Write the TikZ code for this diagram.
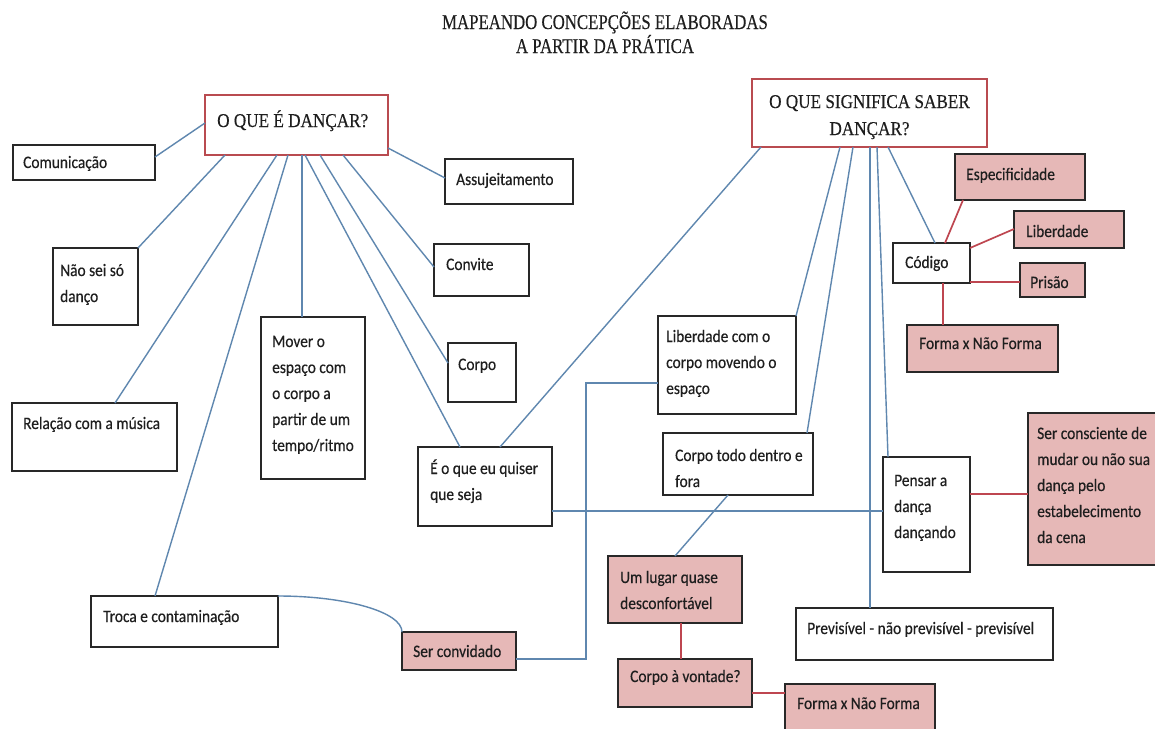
\documentclass[tikz,border=0pt]{standalone}
\usepackage{fontspec}
\setmainfont{Carlito}[FakeStretch=0.88,FakeBold=0.35]
\newfontfamily\ttlfont[FakeStretch=0.8,FakeBold=0.3]{Liberation Serif}
\newfontfamily\qfont[FakeStretch=0.88,FakeBold=0.3]{Liberation Serif}
\newcommand\mlines[1]{\begin{tabular}[t]{@{}l@{}}#1\end{tabular}}
\definecolor{boxline}{RGB}{40,40,40}
\definecolor{qred}{RGB}{185,75,80}
\definecolor{pinkfill}{RGB}{230,184,183}
\definecolor{connblue}{RGB}{95,135,175}
\definecolor{connred}{RGB}{190,70,80}
\definecolor{txtcol}{RGB}{30,30,30}
\begin{document}
\begin{tikzpicture}[x=1pt,y=-1pt,
  box/.style={draw=boxline, line width=1.9pt, fill=white, inner sep=0pt, outer sep=0pt, anchor=north west},
  pinkbox/.style={box, fill=pinkfill},
  qbox/.style={box, draw=qred, line width=2.6pt},
  txt/.style={anchor=base west, inner sep=0pt, text=txtcol, font=\fontsize{17.5}{26}\selectfont},
  conn/.style={draw=connblue, line width=1.4pt},
  rconn/.style={draw=connred, line width=1.7pt}]
\useasboundingbox (0,0) rectangle (1155,728);
\fill[white] (0,0) rectangle (1155,728);

% title
\node[anchor=base, inner sep=0pt, text=txtcol, font=\ttlfont\fontsize{21}{24}\selectfont] (ttl1) at (605,29) {MAPEANDO CONCEPÇÕES ELABORADAS};
\node[anchor=base, inner sep=0pt, text=txtcol, font=\ttlfont\fontsize{21}{24}\selectfont] (ttl2) at (605,53) {A PARTIR DA PRÁTICA};

% boxes
\node[qbox, minimum width=183pt, minimum height=60pt] (A) at (205,95) {};
\node[qbox, minimum width=235pt, minimum height=68pt] (B) at (752,79) {};
\node[box, minimum width=142pt, minimum height=35pt] (com) at (13,145) {};
\node[box, minimum width=85pt, minimum height=77pt] (nao) at (53,248) {};
\node[box, minimum width=128pt, minimum height=45pt] (ass) at (445,159) {};
\node[box, minimum width=95pt, minimum height=52pt] (con) at (434,244) {};
\node[box, minimum width=104pt, minimum height=162pt] (mov) at (261,317) {};
\node[box, minimum width=68pt, minimum height=59pt] (corpo) at (448,343) {};
\node[box, minimum width=165pt, minimum height=68pt] (rel) at (12,403) {};
\node[box, minimum width=134pt, minimum height=79pt] (e) at (418,447) {};
\node[box, minimum width=187pt, minimum height=51pt] (troca) at (91,596) {};
\node[pinkbox, minimum width=114pt, minimum height=38pt] (ser) at (402,632) {};
\node[box, minimum width=138pt, minimum height=98pt] (lib) at (658,316) {};
\node[box, minimum width=150pt, minimum height=62pt] (ctd) at (663,433) {};
\node[box, minimum width=77pt, minimum height=40pt] (cod) at (893,243) {};
\node[pinkbox, minimum width=130pt, minimum height=46pt] (esp) at (955,154) {};
\node[pinkbox, minimum width=110pt, minimum height=37pt] (libd) at (1014,211) {};
\node[pinkbox, minimum width=65pt, minimum height=34pt] (pri) at (1020,263) {};
\node[pinkbox, minimum width=151pt, minimum height=47pt] (fnf1) at (907,325) {};
\node[box, minimum width=87pt, minimum height=115pt] (pen) at (883,457) {};
\node[pinkbox, minimum width=134pt, minimum height=152pt] (scd) at (1028,413) {};
\node[pinkbox, minimum width=134pt, minimum height=67pt] (um) at (608,556) {};
\node[pinkbox, minimum width=134pt, minimum height=48pt] (cav) at (618,659) {};
\node[box, minimum width=257pt, minimum height=52pt] (prev) at (796,608) {};
\node[pinkbox, minimum width=150pt, minimum height=56pt] (fnf2) at (785,684) {};

% texts
\node[anchor=base west, inner sep=0pt, text=txtcol, font=\qfont\fontsize{19.5}{27}\selectfont] (tA) at (217,127) {O QUE É DANÇAR?};
\node[anchor=base, inner sep=0pt, text=txtcol, font=\qfont\fontsize{19.5}{27}\selectfont] (tB) at (869.5,108) {\begin{tabular}[t]{@{}c@{}}O QUE SIGNIFICA SABER\\DANÇAR?\end{tabular}};
\node[txt] (tcom) at (23,168) {Comunicação};
\node[txt] (tnao) at (60,276) {\mlines{Não sei só\\danço}};
\node[txt] (tass) at (456,185) {Assujeitamento};
\node[txt] (tcon) at (446,270) {Convite};
\node[txt] (tmov) at (272,347) {\mlines{Mover o\\espaço com\\o corpo a\\partir de um\\tempo/ritmo}};
\node[txt] (tcorpo) at (458,370) {Corpo};
\node[txt] (trel) at (23,429) {Relação com a música};
\node[txt] (te) at (430,474) {\mlines{É o que eu quiser\\que seja}};
\node[txt] (ttroca) at (103,622) {Troca e contaminação};
\node[txt] (tser) at (413,657) {Ser convidado};
\node[txt] (tlib) at (666,342) {\mlines{Liberdade com o\\corpo movendo o\\espaço}};
\node[txt] (tctd) at (675,461) {\mlines{Corpo todo dentro e\\fora}};
\node[txt] (tcod) at (905,268) {Código};
\node[txt] (tesp) at (966,180) {Especificidade};
\node[txt] (tlibd) at (1026,237) {Liberdade};
\node[txt] (tpri) at (1030,288) {Prisão};
\node[txt] (tfnf1) at (919,349) {Forma x Não Forma};
\node[txt] (tpen) at (894,486) {\mlines{Pensar a\\dança\\dançando}};
\node[txt] (tscd) at (1037,439) {\mlines{Ser consciente de\\mudar ou não sua\\dança pelo\\estabelecimento\\da cena}};
\node[txt] (tum) at (620,583) {\mlines{Um lugar quase\\desconfortável}};
\node[txt] (tcav) at (630,682) {Corpo à vontade?};
\node[txt] (tprev) at (807,634) {Previsível - não previsível - previsível};
\node[txt] (tfnf2) at (797,709) {Forma x Não Forma};

% blue connectors from A
\draw[conn] ([yshift=-28pt]A.north west) -- ([yshift=-12pt]com.north east);
\draw[conn] ([xshift=20pt]A.south west) -- (nao.north east);
\draw[conn] ([xshift=72pt]A.south west) -- ([xshift=103pt]rel.north west);
\draw[conn] ([xshift=83pt]A.south west) -- ([xshift=64pt]troca.north west);
\draw[conn] ([xshift=97pt]A.south west) -- ([xshift=41pt]mov.north west);
\draw[conn] ([xshift=100pt]A.south west) -- ([xshift=42pt]e.north west);
\draw[conn] ([xshift=115pt]A.south west) -- ([yshift=-20pt]corpo.north west);
\draw[conn] ([xshift=138pt]A.south west) -- ([yshift=-23pt]con.north west);
\draw[conn] ([yshift=7pt]A.south east) -- ([yshift=-19pt]ass.north west);
% blue connectors from B
\draw[conn] ([xshift=9pt]B.south west) -- ([xshift=82pt]e.north west);
\draw[conn] ([xshift=88pt]B.south west) -- (lib.north east);
\draw[conn] ([xshift=101pt]B.south west) -- ([xshift=-6pt]ctd.north east);
\draw[conn] ([xshift=118pt]B.south west) -- ([xshift=74pt]prev.north west);
\draw[conn] ([xshift=125pt]B.south west) -- ([xshift=5pt]pen.north west);
\draw[conn] ([xshift=136pt]B.south west) -- ([xshift=42pt]cod.north west);
% other blue connectors
\draw[conn] ([yshift=15pt]e.south east) -- ([yshift=61pt]pen.south west);
\draw[conn] ([yshift=11pt]ser.south east) -- ++(70,0) |- ([yshift=-67pt]lib.north west);
\draw[conn] (troca.north east) .. controls +(68,0) and ([yshift=20pt]ser.north west) .. (ser.north west);
\draw[conn] ([xshift=65pt]ctd.south west) -- ([xshift=67pt]um.north west);
% red connectors
\draw[rconn] ([xshift=8pt]esp.south west) -- ([xshift=52pt]cod.north west);
\draw[rconn] ([yshift=-5pt]cod.north east) -- ([yshift=-18pt]libd.north west);
\draw[rconn] ([yshift=1pt]cod.south east) -- ([yshift=15pt]pri.south west);
\draw[rconn] ([xshift=50pt]cod.south west) -- ([xshift=36pt]fnf1.north west);
\draw[rconn] ([yshift=-37pt]pen.north east) -- ([yshift=-81pt]scd.north west);
\draw[rconn] ([xshift=73pt]um.south west) -- ([xshift=63pt]cav.north west);
\draw[rconn] ([yshift=14pt]cav.south east) -- ([yshift=-9pt]fnf2.north west);
\end{tikzpicture}
\end{document}
